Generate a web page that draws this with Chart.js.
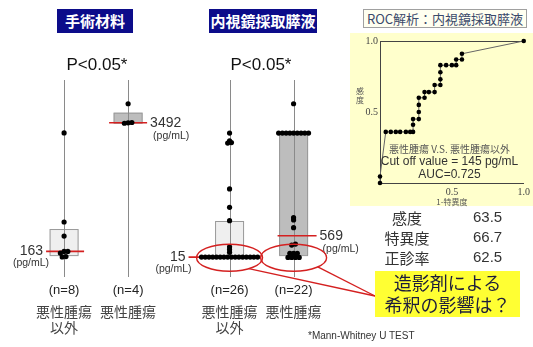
<!DOCTYPE html>
<html lang="ja">
<head>
<meta charset="UTF-8">
<title>膵液 測定値</title>
<script src="https://cdn.jsdelivr.net/npm/chart.js"></script>
<style>
    body {
        margin: 0;
        width: 533px;
        height: 347px;
        position: relative;
        overflow: hidden;
        background: #fff;
        font-family: "Liberation Sans", Arial, "Noto Sans CJK JP", sans-serif;
        color: #222;
    }
    .abs { position: absolute; }
    canvas { position: absolute; }
    .titulo {
        top: 9px; height: 24px; line-height: 24px;
        background: #0c0c8a; color: #fff;
        font-family: "Noto Sans CJK JP", sans-serif;
        font-weight: bold; font-size: 15px; text-align: center;
    }
    .pval { top: 55px; width: 100px; text-align: center; font-size: 17px; color: #111; }
    .rocfundo { left: 350px; top: 33px; width: 183px; height: 173px; background: #ffffcc; }
    .roctitulo {
        left: 363px; top: 9px; width: 162px; height: 17px; line-height: 17px;
        background: #fffff0; border: 1px solid #a0a0a0;
        font-family: "Noto Sans CJK JP", sans-serif; font-size: 13px;
        color: #3b4a6b; text-align: center;
    }
    .roctxt { width: 183px; left: 358px; text-align: center; color: #333; }
    .stat { font-size: 15px; color: #333; }
    .lbl { width: 60px; left: 377px; text-align: center; font-family: "Noto Sans CJK JP", sans-serif; }
    .num { left: 473px; }
    .balao {
        left: 375px; top: 271px; width: 145px; height: 46px;
        background: #ffff33;
        font-family: "Noto Sans CJK JP", sans-serif; font-size: 18px;
        line-height: 22px; text-align: center; color: #1c1c3c;
    }
</style>
</head>
<body>

<div class="abs rocfundo"></div>
<div class="abs roctitulo">ROC解析：内視鏡採取膵液</div>

<canvas id="roc" width="183" height="174" style="left:350px; top:33px;"></canvas>
<canvas id="painel1" width="533" height="347" style="left:0; top:0;"></canvas>
<canvas id="painel2" width="533" height="347" style="left:0; top:0;"></canvas>

<div class="abs titulo" style="left:57px; width:76px;">手術材料</div>
<div class="abs titulo" style="left:209px; width:108px;">内視鏡採取膵液</div>
<div class="abs pval" style="left:47px;">P&lt;0.05*</div>
<div class="abs pval" style="left:211px;">P&lt;0.05*</div>

<div class="abs" style="left:356px; top:86px; width:10px; font-size:8px; line-height:9px; color:#555; font-family:'Noto Sans CJK JP';">感<br>度</div>
<div class="abs roctxt" style="top:141px; font-size:10px; color:#555; font-family:'Noto Sans CJK JP';">悪性腫瘍 V.S. 悪性腫瘍以外</div>
<div class="abs roctxt" style="top:154px; font-size:12px;">Cut off value = 145 pg/mL</div>
<div class="abs roctxt" style="top:167px; font-size:12px;">AUC=0.725</div>

<div class="abs stat lbl" style="top:207px;">感度</div>
<div class="abs stat num" style="top:208px;">63.5</div>
<div class="abs stat lbl" style="top:227px;">特異度</div>
<div class="abs stat num" style="top:228px;">66.7</div>
<div class="abs stat lbl" style="top:247px;">正診率</div>
<div class="abs stat num" style="top:248px;">62.5</div>

<div class="abs balao">造影剤による<br>希釈の影響は？</div>
<div class="abs" style="left:308px; top:330px; font-size:10px; color:#333;">*Mann-Whitney U TEST</div>

<script>
    // categorias (as duas colunas de cada painel)
    const categorias = [["悪性腫瘍", "以外"], ["悪性腫瘍"]];

    // 手術材料 (pg/mL)
    const cirurgiaN = [8, 4];
    const cirurgiaOutros = [3230, 924, 560, 163, 163, 120, 30, 20];
    const cirurgiaMalig = [3985, 3500, 3492, 3480];
    const cirurgiaMediana = [163, 3492];
    const cirurgiaQ1 = [67, 3492];
    const cirurgiaQ3 = [742, 3754];

    // 内視鏡採取膵液 (pg/mL)
    const endoN = [26, 22];
    const endoOutros = [3225, 3025, 2981, 2966, 1780, 1305, 958, 283, 215, 138,
        15, 15, 15, 15, 15, 15, 15, 15, 15, 15, 15, 15, 15, 15, 15, 15];
    const endoMalig = [3985, 3225, 3225, 3225, 3225, 3225, 3225, 3225, 3225, 3225,
        1035, 975, 776, 353, 327, 112, 112, 112, 8, 8, 8, 8];
    const endoMediana = [15, 569];
    const endoQ1 = [15, 67];
    const endoQ3 = [950, 3230];

    // curva ROC
    const rocFpr = [0, 0, 0.04, 0.075, 0.11, 0.14, 0.18, 0.21, 0.23, 0.23, 0.23,
        0.27, 0.27, 0.27, 0.27, 0.31, 0.31, 0.34, 0.38, 0.38, 0.42, 0.42, 0.42, 0.42,
        0.46, 0.50, 0.53, 0.53, 0.57, 0.57, 1];
    const rocTpr = [0, 0.046, 0.36, 0.36, 0.36, 0.36, 0.36, 0.36, 0.36, 0.41, 0.45,
        0.45, 0.50, 0.55, 0.60, 0.60, 0.64, 0.64, 0.64, 0.69, 0.69, 0.73, 0.78, 0.83,
        0.83, 0.83, 0.83, 0.87, 0.87, 0.91, 1];

    const UNIDADE = 65;      // px entre as duas colunas
    const ESPACO = 3.8;      // px entre pontos empatados
    const MEIA_CAIXA = 14.5;
    const alcance = [[18, 20], [19, 19], [41, 20], [16, 23]];

    // espalha pontos de valor parecido na horizontal
    function enxame(valores, g) {
        const ord = [...valores].sort((a, b) => a - b);
        const grupos = [];
        ord.forEach(v => {
            const ult = grupos[grupos.length - 1];
            if (ult && v - ult[0] <= 50) ult.push(v);
            else grupos.push([v]);
        });
        const pts = [];
        grupos.forEach(gr => {
            gr.forEach((v, j) => {
                pts.push({ x: g + (j - (gr.length - 1) / 2) * ESPACO / UNIDADE, y: v });
            });
        });
        return pts;
    }

    function decoracao(cfg) {
        return {
            id: "deco",
            beforeDatasetsDraw(chart) {
                const ctx = chart.ctx, xs = chart.scales.x, ys = chart.scales.y, area = chart.chartArea;
                ctx.save();
                [0, 1].forEach(g => {
                    const cx = xs.getPixelForValue(g);
                    const yTop = ys.getPixelForValue(cfg.q3[g]);
                    const yBot = ys.getPixelForValue(cfg.q1[g]);
                    ctx.fillStyle = g === 0 ? "#efefef" : "#bdbdbd";
                    ctx.strokeStyle = "#999";
                    ctx.lineWidth = 1;
                    ctx.fillRect(cx - MEIA_CAIXA, yTop, MEIA_CAIXA * 2, yBot - yTop);
                    ctx.strokeRect(cx - MEIA_CAIXA + 0.5, yTop + 0.5, MEIA_CAIXA * 2 - 1, yBot - yTop);

                    ctx.strokeStyle = "#8a8a8a";
                    ctx.beginPath();
                    ctx.moveTo(Math.round(cx) + 0.5, area.top);
                    ctx.lineTo(Math.round(cx) + 0.5, area.bottom);
                    ctx.stroke();

                    const ym = ys.getPixelForValue(cfg.medianas[g]);
                    const r = alcance[cfg.offset + g];
                    ctx.strokeStyle = "#d42020";
                    ctx.lineWidth = 1.6;
                    ctx.beginPath();
                    ctx.moveTo(cx - r[0], ym);
                    ctx.lineTo(cx + r[1], ym);
                    ctx.stroke();
                });
                ctx.restore();
            },
            afterDatasetsDraw(chart) {
                const ctx = chart.ctx, xs = chart.scales.x, ys = chart.scales.y, area = chart.chartArea;
                ctx.save();
                ctx.textBaseline = "middle";
                [0, 1].forEach(g => {
                    const cx = xs.getPixelForValue(g);
                    const ym = ys.getPixelForValue(cfg.medianas[g]);
                    const r = alcance[cfg.offset + g];
                    ctx.fillStyle = "#333";
                    if (g === 0) {
                        const xr = cx - r[0] - 3;
                        ctx.textAlign = "right";
                        ctx.font = '14px "Liberation Sans", Arial';
                        ctx.fillText(String(cfg.medianas[g]), xr, ym);
                        ctx.font = '10.5px "Liberation Sans", Arial';
                        ctx.fillText("(pg/mL)", xr + 6, ym + 12);
                    } else {
                        const xl = cx + r[1] + 3;
                        ctx.textAlign = "left";
                        ctx.font = '14px "Liberation Sans", Arial';
                        ctx.fillText(String(cfg.medianas[g]), xl, ym);
                        ctx.font = '10.5px "Liberation Sans", Arial';
                        ctx.fillText("(pg/mL)", xl + 3, ym + 13);
                    }

                    ctx.textAlign = "center";
                    ctx.fillStyle = "#222";
                    ctx.font = '13px "Liberation Sans", Arial';
                    ctx.fillText("(n=" + cfg.n[g] + ")", cx, area.bottom + 13);
                    ctx.fillStyle = "#444";
                    ctx.font = '14px "Noto Sans CJK JP"';
                    categorias[g].forEach((t, k) => ctx.fillText(t, cx, area.bottom + 35 + k * 16));
                });

                if (cfg.elipses) {
                    const y0 = ys.getPixelForValue(0);
                    const pontas = [];
                    ctx.strokeStyle = "#d42020";
                    ctx.lineWidth = 1.4;
                    [0, 1].forEach(g => {
                        const cx = xs.getPixelForValue(g);
                        ctx.beginPath();
                        ctx.ellipse(cx, y0, 33, 13.5, 0, 0, Math.PI * 2);
                        ctx.stroke();
                        const ang = g === 0 ? 0.95 : 0.75;
                        pontas.push([cx + 33 * Math.cos(ang), y0 + 13.5 * Math.sin(ang)]);
                    });
                    pontas.forEach(p => {
                        ctx.beginPath();
                        ctx.moveTo(p[0], p[1]);
                        ctx.lineTo(375, 296);
                        ctx.stroke();
                    });
                }
                ctx.restore();
            }
        };
    }

    function criarPainel(id, linhaX, cfg, outros, malig) {
        const W = 533;
        return new Chart(document.getElementById(id), {
            type: "scatter",
            data: {
                datasets: [
                    { data: enxame(outros, 0) },
                    { data: enxame(malig, 1) }
                ]
            },
            options: {
                responsive: false,
                animation: false,
                devicePixelRatio: 1,
                layout: { padding: { top: 80, bottom: 70, left: 0, right: 0 } },
                elements: { point: { radius: 2.6, backgroundColor: "#000", borderColor: "#000", borderWidth: 0 } },
                scales: {
                    x: { type: "linear", display: false, min: -linhaX / UNIDADE, max: (W - linhaX) / UNIDADE },
                    y: { type: "linear", display: false, min: -500, max: 4600 }
                },
                plugins: { legend: { display: false }, tooltip: { enabled: false } }
            },
            plugins: [decoracao(cfg)]
        });
    }

    criarPainel("painel1", 61, {
        n: cirurgiaN, medianas: cirurgiaMediana, q1: cirurgiaQ1, q3: cirurgiaQ3, offset: 0
    }, cirurgiaOutros, cirurgiaMalig);

    criarPainel("painel2", 229, {
        n: endoN, medianas: endoMediana, q1: endoQ1, q3: endoQ3, offset: 2, elipses: true
    }, endoOutros, endoMalig);

    const serif = { family: '"Liberation Serif", "DejaVu Serif", serif', size: 10 };

    new Chart(document.getElementById("roc"), {
        type: "scatter",
        data: {
            datasets: [{
                data: rocFpr.map((x, i) => ({ x: x, y: rocTpr[i] })),
                showLine: true,
                borderColor: "#666",
                borderWidth: 1,
                pointRadius: 2.3,
                pointBackgroundColor: "#000",
                pointBorderWidth: 0,
                clip: false
            }]
        },
        options: {
            responsive: false,
            animation: false,
            devicePixelRatio: 1,
            layout: { padding: { top: 7, right: 7, left: 0, bottom: 0 } },
            scales: {
                x: {
                    type: "linear", min: 0, max: 1,
                    grid: { display: false, drawTicks: false },
                    border: { display: true, color: "#444" },
                    ticks: { stepSize: 0.5, padding: 3, font: serif, color: "#444",
                        callback: v => v === 0 ? "" : v.toFixed(1) },
                    title: { display: true, text: "1-特異度", padding: 0, color: "#555",
                        font: { family: '"Noto Sans CJK JP"', size: 8 } },
                    afterFit: s => { s.height = 24; }
                },
                y: {
                    type: "linear", min: 0, max: 1,
                    grid: { drawTicks: false, color: c => c.tick.value === 1 ? "#444" : "rgba(0,0,0,0)" },
                    border: { display: true, color: "#444" },
                    ticks: { stepSize: 0.5, padding: 2, font: serif, color: "#444",
                        callback: v => v === 0 ? "" : v.toFixed(1) },
                    afterFit: s => { s.width = 30; }
                }
            },
            plugins: { legend: { display: false }, tooltip: { enabled: false } }
        }
    });
</script>

</body>
</html>
